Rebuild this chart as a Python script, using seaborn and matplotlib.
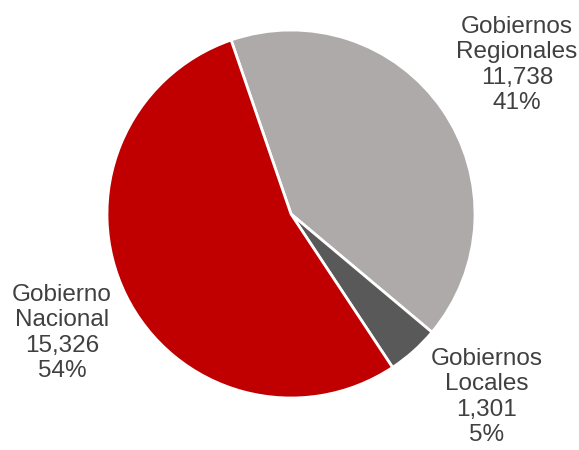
import matplotlib
matplotlib.use('Agg')
import matplotlib.pyplot as plt
import seaborn as sns

# datos
sectores = ['Gobiernos\nRegionales', 'Gobiernos\nLocales', 'Gobierno\nNacional']
valores = [11738, 1301, 15326]
porcentajes = ['41%', '5%', '54%']
colores = ['#AEAAAA', '#595959', '#C00000']

sns.set_style('white')
plt.rcParams['font.family'] = ['Liberation Sans', 'DejaVu Sans']

fig = plt.figure(figsize=(5.79, 4.5), dpi=100)
ax = fig.add_axes([0, 0, 1, 1])

ax.pie(valores, colors=colores, startangle=109, counterclock=False,
       radius=1, center=(0, 0),
       wedgeprops={'edgecolor': 'white', 'linewidth': 2})

# escala: radio = 184 px, centro en (291, 214) px
r_px = 184
ax.set_xlim(-291 / r_px, (579 - 291) / r_px)
ax.set_ylim(-(450 - 214) / r_px, 214 / r_px)
ax.set_aspect('auto')
ax.axis('off')

# posiciones de etiquetas (px desde arriba-izquierda)
pos_etiquetas = [(517, 65), (487, 397), (62, 333)]
for nombre, v, pct, (px, py) in zip(sectores, valores, porcentajes, pos_etiquetas):
    texto = f'{nombre}\n{v:,}\n{pct}'
    fig.text(px / 579, 1 - py / 450, texto, ha='center', va='center',
             fontsize=17.5, color='#404040', linespacing=1.2)

fig.savefig('out.png', dpi=100)
